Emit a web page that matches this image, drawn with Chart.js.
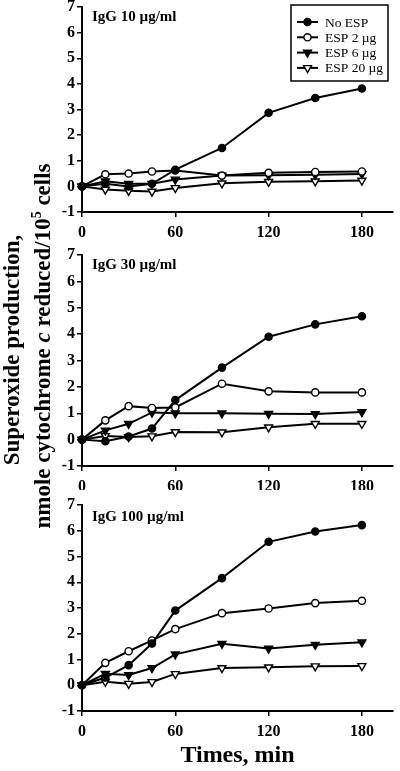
<!DOCTYPE html>
<html><head><meta charset="utf-8">
<script src="https://cdn.jsdelivr.net/npm/chart.js@4"></script>
<style>
html,body{margin:0;padding:0;background:#fff;}
#wrap{position:relative;width:400px;height:771px;overflow:hidden;background:#fff;}
canvas{position:absolute;left:0;}
.yt{position:absolute;font-family:"Liberation Serif",serif;font-weight:bold;font-size:23px;line-height:23px;white-space:nowrap;color:#000;transform:translate(-50%,-50%) rotate(-90deg);}
</style></head><body>
<div id="wrap">
<canvas id="c1" width="400" height="240" style="top:0px"></canvas>
<canvas id="c2" width="400" height="250" style="top:240px"></canvas>
<canvas id="c3" width="400" height="281" style="top:490px"></canvas>
<div class="yt" style="left:11px;top:350px">Superoxide production,</div>
<div class="yt" style="left:42px;top:346px">nmole cytochrome <i>c</i> reduced/10<sup style="font-size:14px;line-height:0">5</sup> cells</div>
</div>
<script>
const times=[0,15,30,45,60,90,120,150,180];
const seriesLabels=['No ESP','ESP 2 µg','ESP 6 µg','ESP 20 µg'];
const panelLabels=['IgG 10 µg/ml','IgG 30 µg/ml','IgG 100 µg/ml'];
const xTicks=[0,60,120,180];
const xTitle='Times, min';

const igg10NoESP=[0,0.1,0.0,0.1,0.65,1.5,2.87,3.45,3.82];
const igg10ESP2=[0,0.47,0.5,0.58,0.62,0.42,0.53,0.56,0.58];
const igg10ESP6=[0,0.2,0.1,0.1,0.27,0.42,0.43,0.45,0.48];
const igg10ESP20=[0,-0.12,-0.17,-0.2,-0.06,0.12,0.18,0.2,0.23];

const igg30NoESP=[0,-0.06,0.12,0.42,1.5,2.73,3.9,4.37,4.68];
const igg30ESP2=[0,0.73,1.27,1.2,1.22,2.12,1.83,1.79,1.79];
const igg30ESP6=[0,0.35,0.6,1.03,1.0,1.0,0.98,0.97,1.05];
const igg30ESP20=[0,0.14,0.1,0.13,0.29,0.28,0.47,0.6,0.6];

const igg100NoESP=[0,0.3,0.78,1.62,2.9,4.16,5.57,5.97,6.22];
const igg100ESP2=[0,0.87,1.32,1.74,2.18,2.8,2.98,3.19,3.28];
const igg100ESP6=[0,0.45,0.4,0.67,1.2,1.61,1.43,1.57,1.67];
const igg100ESP20=[0,0.14,0.06,0.13,0.44,0.67,0.7,0.74,0.75];

const panels=[
  [igg10NoESP,igg10ESP2,igg10ESP6,igg10ESP20],
  [igg30NoESP,igg30ESP2,igg30ESP6,igg30ESP20],
  [igg100NoESP,igg100ESP2,igg100ESP6,igg100ESP20]
];

const FONT='"Liberation Serif", "Times New Roman", serif';
const markerStyles=[
  {style:'circle',fill:'#000',r:3.6,rot:0},
  {style:'circle',fill:'#fff',r:3.6,rot:0},
  {style:'triangle',fill:'#000',r:4.6,rot:180},
  {style:'triangle',fill:'#fff',r:4.6,rot:180}
];

function drawMarker(ctx,m,x,y){
  ctx.save();
  ctx.beginPath();
  if(m.style==='circle'){
    ctx.arc(x,y,m.r,0,Math.PI*2);
  }else{
    const r=m.r;
    ctx.moveTo(x,y+r);
    ctx.lineTo(x-r*Math.sin(Math.PI*2/3),y-r*0.5);
    ctx.lineTo(x+r*Math.sin(Math.PI*2/3),y-r*0.5);
    ctx.closePath();
  }
  ctx.fillStyle=m.fill;ctx.fill();
  ctx.lineWidth=1.4;ctx.strokeStyle='#000';ctx.stroke();
  ctx.restore();
}

const panelLabelPlugin={
  id:'panelLabel',
  afterDraw(chart,args,opts){
    const ctx=chart.ctx,a=chart.chartArea;
    ctx.save();
    ctx.fillStyle='#000';
    ctx.font='bold 15px '+FONT;
    ctx.textBaseline='middle';
    ctx.textAlign='left';
    ctx.fillText(opts.text,a.left+10,a.top+opts.dy);
    if(opts.legend){
      ctx.lineWidth=1.5;ctx.strokeStyle='#000';
      ctx.strokeRect(291,5,97,76);
      ctx.font='13.5px '+FONT;
      chart.data.datasets.forEach((ds,i)=>{
        const y=22+i*15.3;
        ctx.beginPath();ctx.moveTo(297,y);ctx.lineTo(318,y);ctx.lineWidth=2;ctx.stroke();
        drawMarker(ctx,markerStyles[i],307.5,y);
        ctx.fillStyle='#000';
        ctx.fillText(ds.label,325,y+1);
      });
    }
    ctx.restore();
  }
};

function makeChart(id,pi,cfg){
  const datasets=panels[pi].map((vals,i)=>({
    label:seriesLabels[i],
    data:times.map((t,k)=>({x:t,y:vals[k]})),
    borderColor:'#000',
    borderWidth:2,
    pointStyle:markerStyles[i].style,
    pointRadius:markerStyles[i].r,
    pointRotation:markerStyles[i].rot,
    pointBackgroundColor:markerStyles[i].fill,
    pointBorderColor:'#000',
    pointBorderWidth:1.4,
    tension:0,
    clip:false,
    fill:false
  }));
  const tickFont={family:FONT,size:16,weight:'bold'};
  return new Chart(document.getElementById(id),{
    type:'line',
    data:{datasets},
    plugins:[panelLabelPlugin],
    options:{
      responsive:false,animation:false,
      layout:{padding:{left:42,right:7,top:cfg.top,bottom:0}},
      plugins:{legend:{display:false},tooltip:{enabled:false},
        panelLabel:{text:panelLabels[pi],dy:cfg.labelDy,legend:cfg.legend}},
      scales:{
        x:{type:'linear',min:0,max:200,
          afterBuildTicks(s){s.ticks=xTicks.map(v=>({value:v}));},
          ticks:{color:'#000',font:tickFont,padding:6,maxRotation:0,autoSkip:false},
          grid:{drawOnChartArea:false,drawTicks:true,tickLength:5,color:'#000',lineWidth:1.5},
          border:{color:'#000',width:2},
          title:{display:cfg.title,text:xTitle,color:'#000',font:{family:FONT,size:24,weight:'bold'},padding:{top:0,bottom:1}},
          afterFit(s){s.height=cfg.xh;s.paddingLeft=0;s.paddingRight=0;}
        },
        y:{min:-1,max:7,
          ticks:{stepSize:1,color:'#000',font:tickFont,padding:2},
          grid:{drawOnChartArea:false,drawTicks:true,tickLength:5,color:'#000',lineWidth:1.5},
          border:{color:'#000',width:2},
          afterFit(s){s.width=40;s.paddingTop=0;s.paddingBottom=0;}
        }
      }
    }
  });
}

makeChart('c1',0,{top:7,xh:28,labelDy:10,legend:true,title:false});
makeChart('c2',1,{top:15,xh:24,labelDy:10,legend:false,title:false});
makeChart('c3',2,{top:15,xh:60,labelDy:12,legend:false,title:true});
</script>
</body></html>
